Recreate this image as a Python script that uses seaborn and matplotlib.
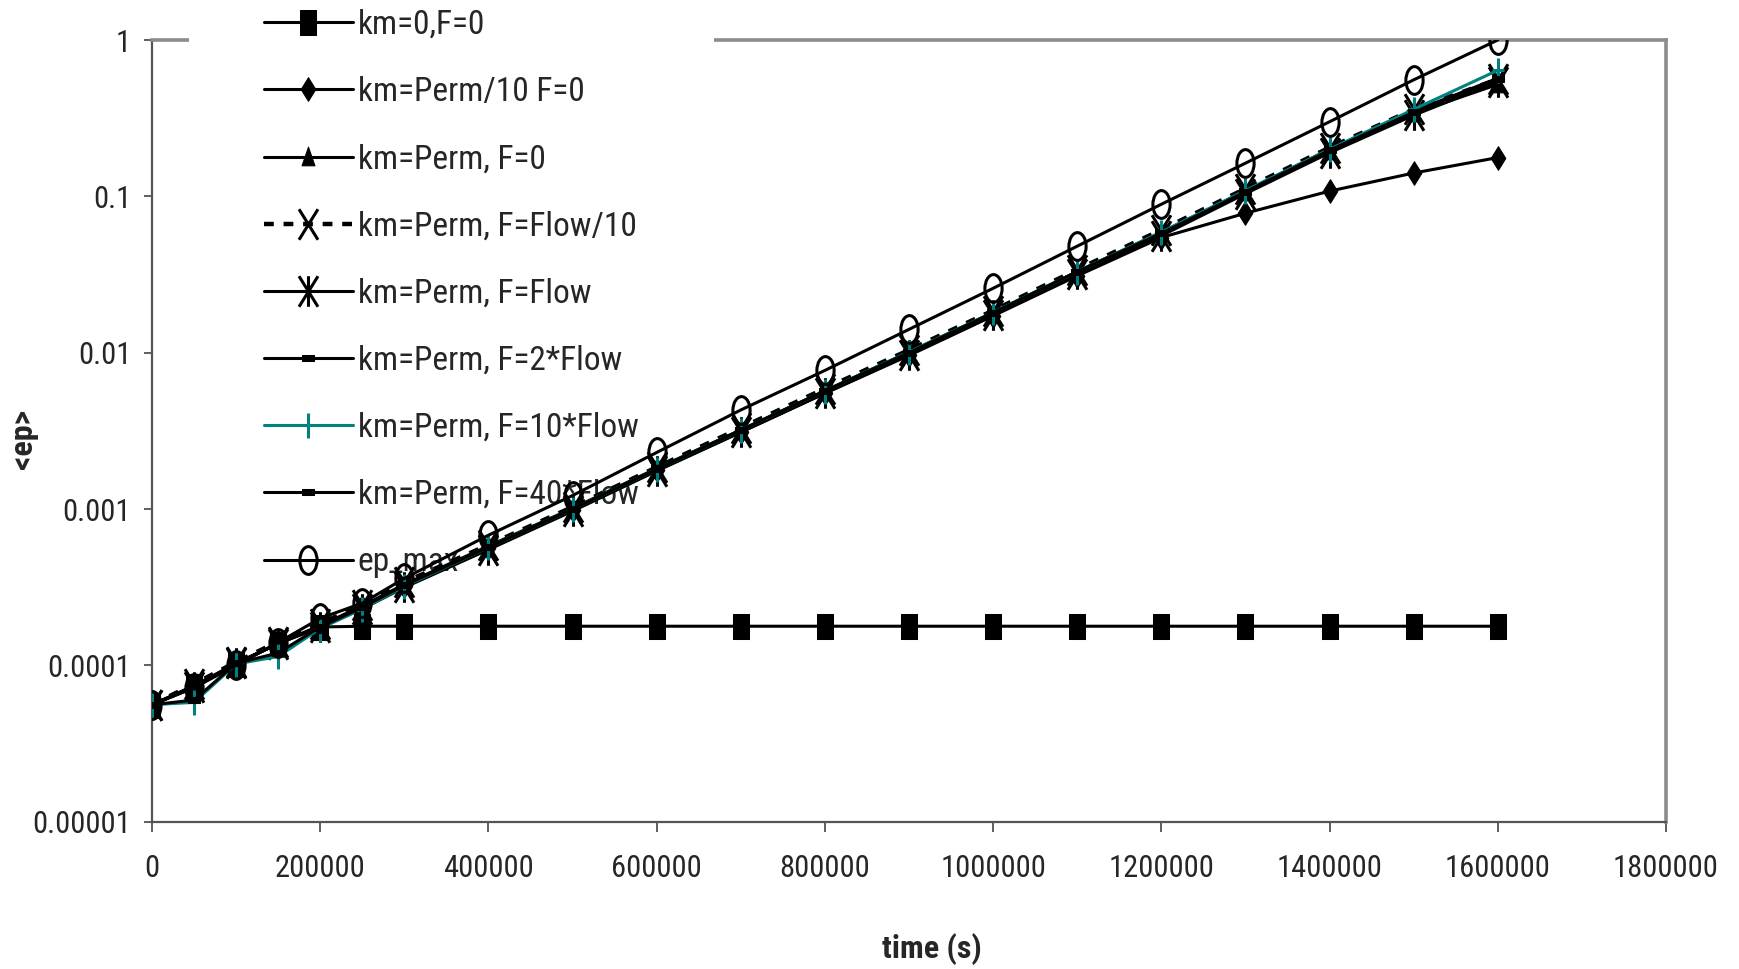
import numpy as np
import pandas as pd
import matplotlib
matplotlib.use("Agg")
import matplotlib.pyplot as plt
from matplotlib import font_manager
from matplotlib.path import Path
from matplotlib.ticker import FixedLocator, FixedFormatter
import seaborn as sns

# ---- data -------------------------------------------------------------
time_s = [0, 50000, 100000, 150000, 200000, 250000, 300000, 400000, 500000,
          600000, 700000, 800000, 900000, 1000000, 1100000, 1200000, 1300000,
          1400000, 1500000, 1600000]

km0_F0 = [5.6e-5, 7.4e-5, 1.02e-4, 1.38e-4, 1.76e-4, 1.78e-4, 1.78e-4, 1.78e-4,
          1.78e-4, 1.78e-4, 1.78e-4, 1.78e-4, 1.78e-4, 1.78e-4, 1.78e-4, 1.78e-4,
          1.78e-4, 1.78e-4, 1.78e-4, 1.78e-4]
perm10_F0 = [5.6e-5, 7.2e-5, 1.02e-4, 1.38e-4, 1.78e-4, 2.35e-4, 3.2e-4, 5.6e-4,
             9.8e-4, 1.77e-3, 3.1e-3, 5.5e-3, 9.6e-3, 0.0172, 0.031, 0.0545,
             0.078, 0.108, 0.141, 0.177]
perm_F0 = [5.6e-5, 7.3e-5, 1.03e-4, 1.38e-4, 1.78e-4, 2.35e-4, 3.25e-4, 5.7e-4,
           1.0e-3, 1.8e-3, 3.15e-3, 5.6e-3, 9.9e-3, 0.0178, 0.0325, 0.058, 0.106,
           0.195, 0.34, 0.52]
perm_flow10 = [5.6e-5, 7.6e-5, 1.05e-4, 1.42e-4, 1.85e-4, 2.45e-4, 3.4e-4, 5.9e-4,
               1.03e-3, 1.85e-3, 3.3e-3, 5.9e-3, 0.0104, 0.0186, 0.034, 0.061,
               0.112, 0.205, 0.36, 0.56]
perm_flow = [5.6e-5, 7.3e-5, 1.03e-4, 1.38e-4, 1.75e-4, 2.3e-4, 3.15e-4, 5.5e-4,
             9.7e-4, 1.75e-3, 3.1e-3, 5.5e-3, 9.7e-3, 0.0173, 0.032, 0.056, 0.104,
             0.19, 0.33, 0.54]
perm_2flow = [5.6e-5, 7.4e-5, 1.03e-4, 1.38e-4, 1.8e-4, 2.4e-4, 3.3e-4, 5.8e-4,
              1.01e-3, 1.82e-3, 3.2e-3, 5.7e-3, 0.0101, 0.0181, 0.033, 0.059,
              0.108, 0.2, 0.35, 0.57]
perm_10flow = [5.6e-5, 5.8e-5, 1.02e-4, 1.14e-4, 1.72e-4, 2.3e-4, 3.2e-4, 5.7e-4,
               1.0e-3, 1.8e-3, 3.2e-3, 5.7e-3, 0.0101, 0.0181, 0.033, 0.059,
               0.109, 0.2, 0.36, 0.64]
perm_40flow = [5.6e-5, 6.0e-5, 1.03e-4, 1.2e-4, 1.76e-4, 2.35e-4, 3.25e-4, 5.7e-4,
               1.0e-3, 1.8e-3, 3.2e-3, 5.7e-3, 0.01, 0.018, 0.033, 0.058, 0.107,
               0.197, 0.345, 0.56]
ep_max = [5.6e-5, 7.2e-5, 1.0e-4, 1.4e-4, 2.0e-4, 2.5e-4, 3.6e-4, 6.8e-4, 1.22e-3,
          2.3e-3, 4.3e-3, 7.7e-3, 0.0141, 0.0258, 0.048, 0.089, 0.163, 0.30,
          0.556, 1.0]

series_names = ["km=0,F=0", "km=Perm/10 F=0", "km=Perm, F=0", "km=Perm, F=Flow/10",
                "km=Perm, F=Flow", "km=Perm, F=2*Flow", "km=Perm, F=10*Flow",
                "km=Perm, F=40*Flow", "ep_max"]
series_values = [km0_F0, perm10_F0, perm_F0, perm_flow10, perm_flow, perm_2flow,
                 perm_10flow, perm_40flow, ep_max]

y_ticks = [1e-5, 1e-4, 1e-3, 1e-2, 1e-1, 1]
y_tick_labels = ["0.00001", "0.0001", "0.001", "0.01", "0.1", "1"]
x_ticks = [0, 200000, 400000, 600000, 800000, 1000000, 1200000, 1400000,
           1600000, 1800000]
x_tick_labels = [str(v) for v in x_ticks]

df = pd.DataFrame({
    "time": np.tile(time_s, len(series_names)),
    "ep": np.concatenate(series_values),
    "series": np.repeat(series_names, len(time_s)),
})

# ---- narrow marker shapes ---------------------------------------------
SQ = 0.62  # horizontal squeeze of the marker glyphs


def closed(verts):
    verts = list(verts) + [verts[0]]
    codes = [Path.MOVETO] + [Path.LINETO] * (len(verts) - 2) + [Path.CLOSEPOLY]
    return Path(verts, codes)


def strokes(segs):
    verts, codes = [], []
    for a, b in segs:
        verts += [a, b]
        codes += [Path.MOVETO, Path.LINETO]
    return Path(verts, codes)


circ = Path.unit_circle()
m_ellipse = Path(circ.vertices * np.array([SQ, 1.0]), circ.codes)
m_square = closed([(-SQ, -1), (SQ, -1), (SQ, 1), (-SQ, 1)])
m_diamond = closed([(0, 1), (SQ, 0), (0, -1), (-SQ, 0)])
m_triangle = closed([(-SQ, -0.8), (SQ, -0.8), (0, 1)])
m_cross = strokes([((-SQ, -1), (SQ, 1)), ((-SQ, 1), (SQ, -1))])
m_star = strokes([((-SQ, -1), (SQ, 1)), ((-SQ, 1), (SQ, -1)), ((0, -1), (0, 1))])
m_plus = strokes([((0, -1), (0, 1)), ((-SQ * 0.8, 0), (SQ * 0.8, 0))])
m_bar = closed([(-1, -0.45), (1, -0.45), (1, 0.45), (-1, 0.45)])

styles = {
    "km=0,F=0": dict(color="black", marker=m_square, ms=18, mfc="black", lw=2.2),
    "km=Perm/10 F=0": dict(color="black", marker=m_diamond, ms=17, mfc="black", lw=2.2),
    "km=Perm, F=0": dict(color="black", marker=m_triangle, ms=15, mfc="black", lw=2.2),
    "km=Perm, F=Flow/10": dict(color="black", marker=m_cross, ms=22, mew=2.2,
                               lw=3.2, ls=(0, (2.2, 2.2)), dash_capstyle="butt"),
    "km=Perm, F=Flow": dict(color="black", marker=m_star, ms=22, mew=2.2, lw=2.2),
    "km=Perm, F=2*Flow": dict(color="black", marker=m_bar, ms=9, mfc="black", lw=2.2),
    "km=Perm, F=10*Flow": dict(color="#008080", marker=m_plus, ms=18, mew=2.2, lw=2.2),
    "km=Perm, F=40*Flow": dict(color="black", marker=m_bar, ms=9, mfc="black", lw=2.2),
    "ep_max": dict(color="black", marker=m_ellipse, ms=20, mfc="none", mew=2.2, lw=2.2),
}

# ---- fonts: prefer a narrow sans if one is installed -------------------
installed = {f.name for f in font_manager.fontManager.ttflist}
narrow = next((n for n in ["Liberation Sans Narrow", "Arial Narrow",
                           "Roboto Condensed", "Open Sans Condensed",
                           "Nimbus Sans Narrow"] if n in installed), None)
if narrow:
    families = [narrow, "Liberation Sans", "DejaVu Sans"]
    fs_tick, fs_leg, fs_lab = 22, 24, 23
else:
    families = ["Liberation Sans", "DejaVu Sans"]
    fs_tick, fs_leg, fs_lab = 19, 21, 21

# ---- figure -----------------------------------------------------------
sns.set_theme(style="white")
plt.rcParams["font.family"] = families

fig = plt.figure(figsize=(17.39, 9.69), dpi=100)
ax = fig.add_axes([0.0874, 0.152, 0.8706, 0.8067])

for name in series_names:
    st = dict(styles[name])
    sub = df[df["series"] == name]
    sns.lineplot(data=sub, x="time", y="ep", ax=ax, sort=False, errorbar=None,
                 legend=False, label=name, markeredgecolor=st["color"],
                 zorder=3, **st)

ax.set_yscale("log")
ax.set_xlim(0, 1800000)
ax.set_ylim(1e-5, 1)
ax.yaxis.set_major_locator(FixedLocator(y_ticks))
ax.yaxis.set_major_formatter(FixedFormatter(y_tick_labels))
ax.yaxis.set_minor_locator(FixedLocator([]))
ax.set_xticks(x_ticks)
ax.set_xticklabels(x_tick_labels)

ax.tick_params(axis="y", which="major", direction="out", length=6, width=1.2,
               color="#444444", labelsize=fs_tick, pad=9, left=True)
ax.tick_params(axis="x", which="major", direction="out", length=7, width=1.2,
               color="#444444", labelsize=fs_tick, pad=16, bottom=True)

for side in ("left", "bottom"):
    ax.spines[side].set_color("#555555")
    ax.spines[side].set_linewidth(1.6)
for side in ("top", "right"):
    ax.spines[side].set_color("#8c8c8c")
    ax.spines[side].set_linewidth(2.6)

ax.set_xlabel("time (s)", fontsize=fs_lab, fontweight="bold")
ax.set_ylabel("<ep>", fontsize=fs_lab, fontweight="bold")
ax.xaxis.set_label_coords(0.515, -0.142)
ax.yaxis.set_label_coords(-0.075, 0.49)

# white legend box sits over the top border, under the data lines
px = fs_leg * 100 / 72.0
pad_px = 75.0
handles, labels = ax.get_legend_handles_labels()
leg = ax.legend(handles, labels, loc="upper left",
                bbox_to_anchor=(189 / 1739, 1 + (pad_px - 9.0) / 969),
                bbox_transform=fig.transFigure,
                fontsize=fs_leg, frameon=True, facecolor="white", edgecolor="none",
                framealpha=1.0, fancybox=False, handlelength=63.9 / fs_leg,
                handletextpad=0.15, labelspacing=(47.8 - 0.937 * fs_leg) / fs_leg,
                borderpad=pad_px / px, borderaxespad=0.0, markerscale=1.0)
leg.set_zorder(2.7)

fig.savefig("out.png", dpi=100, facecolor="white")
